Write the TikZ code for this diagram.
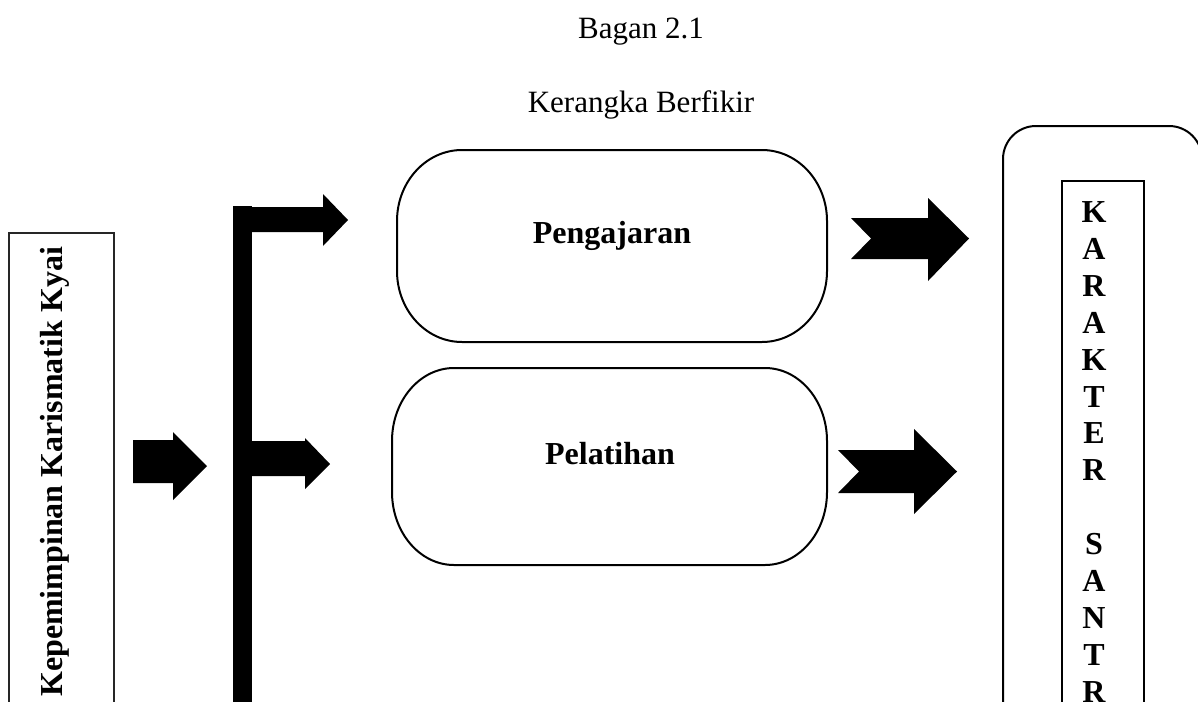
\documentclass[tikz,border=0pt]{standalone}
\usepackage{fontspec}
\setmainfont{Liberation Serif}
\begin{document}
\begin{tikzpicture}[x=1pt,y=1pt,
  titletext/.style={font=\fontsize{31}{37}\selectfont, inner sep=0, anchor=base},
  boldtext/.style={font=\bfseries\fontsize{32}{38}\selectfont, inner sep=0, anchor=base},
  outline/.style={draw=black, line width=2},
  blockarrow/.style={fill=black, draw=none}]
\useasboundingbox (0,0) rectangle (1198,-701);
\clip (0,0) rectangle (1198,-701);
% titles
\node[titletext] (bagan) at (641,-38) {Bagan 2.1};
\node[titletext] (judul) at (641,-112) {Kerangka Berfikir};
% left box
\draw[line width=1.2, draw=black!85] (9,-720) -- (9,-233) -- (114,-233) -- (114,-720);
\node[boldtext, rotate=90, anchor=base west] (lead) at (62,-697) {Kepemimpinan Karismatik Kyai};
% small arrow
\fill[blockarrow] (133,-440) -- (173,-440) -- (173,-432) -- (207,-466) -- (173,-500) -- (173,-483) -- (133,-483) -- cycle;
% vertical bar and branches
\fill[blockarrow] (233,-206) rectangle (252,-720);
\fill[blockarrow] (250,-207) -- (323,-207) -- (323,-194) -- (348,-220) -- (323,-246) -- (323,-232) -- (250,-232) -- cycle;
\fill[blockarrow] (250,-441) -- (305,-441) -- (305,-438) -- (330,-464) -- (305,-489) -- (305,-476) -- (250,-476) -- cycle;
% Pengajaran stadium
\draw[outline] (462,-150) -- (762,-150)
  arc[start angle=90, end angle=0, x radius=65, y radius=71] -- (827,-271)
  arc[start angle=0, end angle=-90, x radius=65, y radius=71] -- (462,-342)
  arc[start angle=270, end angle=180, x radius=65, y radius=71] -- (397,-221)
  arc[start angle=180, end angle=90, x radius=65, y radius=71] -- cycle;
\node[boldtext] (ajar) at (612,-243) {Pengajaran};
% Pelatihan stadium
\draw[outline] (454,-368) -- (765,-368)
  arc[start angle=90, end angle=0, x radius=62, y radius=73] -- (827,-492)
  arc[start angle=0, end angle=-90, x radius=62, y radius=73] -- (454,-565)
  arc[start angle=270, end angle=180, x radius=62, y radius=73] -- (392,-441)
  arc[start angle=180, end angle=90, x radius=62, y radius=73] -- cycle;
\node[boldtext] (latih) at (610,-464) {Pelatihan};
% notched arrows
\fill[blockarrow] (851,-218) -- (928,-218) -- (928,-198) -- (969,-238.5) -- (928,-281) -- (928,-259) -- (851,-259) -- (871,-238.5) -- cycle;
\fill[blockarrow] (838,-450) -- (914,-450) -- (914,-429) -- (957,-471.5) -- (914,-514) -- (914,-493) -- (838,-493) -- (859,-471.5) -- cycle;
% right boxes
\draw[line width=2, rounded corners=33] (1003,-720) -- (1003,-126) -- (1202,-126) -- (1202,-720);
\draw[line width=1.5] (1062,-720) -- (1062,-181) -- (1144,-181) -- (1144,-720);
\foreach \l/\b [count=\i] in {K/222, A/259, R/296, A/333, K/370, T/407, E/443, R/480, S/554, A/591, N/628, T/665, R/702}
  \node[boldtext] (c\i) at (1094,-\b) {\l};
\end{tikzpicture}
\end{document}
